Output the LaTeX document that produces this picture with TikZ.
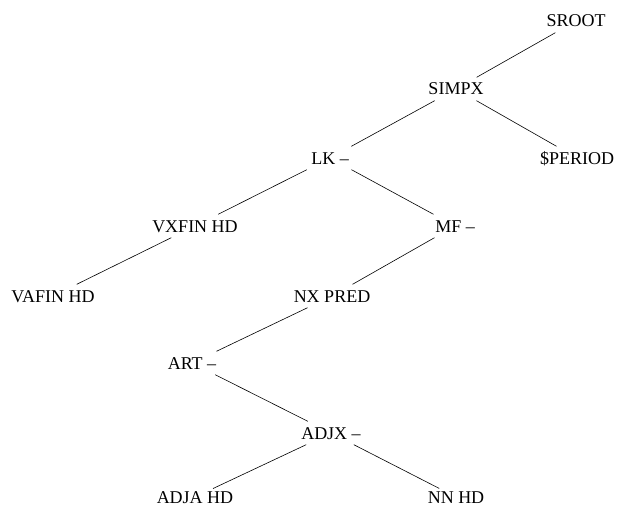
\documentclass[tikz,border=0pt]{standalone}
\usepackage{fontspec}
\setmainfont{Liberation Serif}
\begin{document}
\begin{tikzpicture}[x=1pt,y=-1pt,
  lab/.style={font=\fontsize{18}{20}\selectfont, text height=12pt, text depth=0pt, inner ysep=5.5pt, inner xsep=6pt},
  leaf/.style={lab, inner ysep=1pt},
  edge/.style={draw=black, line width=0.6pt},
  toleaf/.style={edge, shorten >=3pt}]
\useasboundingbox (0,0) rectangle (617,508);
\node[lab] (sroot) at (576,21) {SROOT};
\node[lab] (simpx) at (456,89) {SIMPX};
\node[lab] (period) at (577,158) {\$PERIOD};
\node[lab] (lk) at (330,158) {LK –};
\node[lab] (vxfin) at (195,226) {VXFIN HD};
\node[lab] (mf) at (455,226) {MF –};
\node[lab] (vafin) at (53,296) {VAFIN HD};
\node[lab] (nx) at (332,296) {NX PRED};
\node[lab] (art) at (192,363) {ART –};
\node[lab] (adjx) at (331,433) {ADJX –};
\node[leaf] (adja) at (195,497) {ADJA HD};
\node[leaf] (nn) at (456,497) {NN HD};
\draw[edge] (sroot) -- (simpx);
\draw[edge] (simpx) -- (period);
\draw[edge] (simpx) -- (lk);
\draw[edge] (lk) -- (vxfin);
\draw[edge] (lk) -- (mf);
\draw[edge] (vxfin) -- (vafin);
\draw[edge] (mf) -- (nx);
\draw[edge] (nx) -- (art);
\draw[edge] (art) -- (adjx);
\draw[toleaf] (adjx) -- (adja);
\draw[toleaf] (adjx) -- (nn);
\end{tikzpicture}
\end{document}
